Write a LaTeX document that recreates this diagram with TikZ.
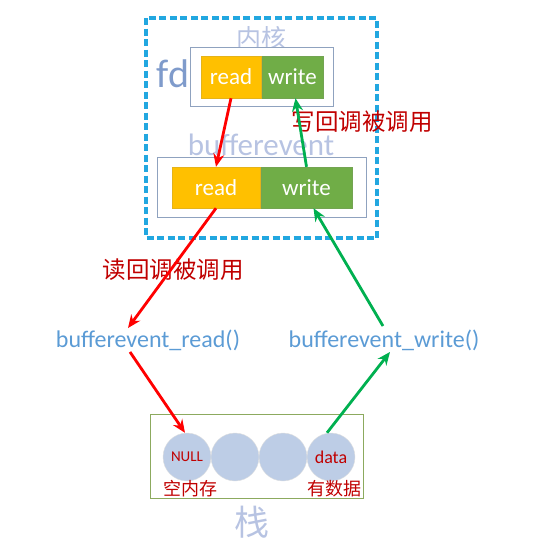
\documentclass[tikz,border=0pt]{standalone}
\usepackage{fontspec}
\setmainfont{Carlito}
\newfontfamily\cjk{Noto Sans CJK SC}
\usepackage{tikz}
\usetikzlibrary{positioning,arrows.meta}

\definecolor{kblue}{HTML}{22A7E0}
\definecolor{klav}{HTML}{B7C3E2}
\definecolor{kyel}{HTML}{FFC000}
\definecolor{kgrn}{HTML}{70AD47}
\definecolor{kred}{HTML}{C00000}
\definecolor{kfn}{HTML}{5B9BD5}
\definecolor{kfd}{HTML}{7F9BCB}
\definecolor{kcirc}{HTML}{BDCDE6}
\definecolor{karrg}{HTML}{00B050}
\definecolor{kedge}{HTML}{8FA2BF}
\definecolor{kstk}{HTML}{8CAA5E}

\tikzset{
  frame/.style={draw=kedge, fill=white, line width=1pt},
  rbox/.style={fill=kyel, draw=kyel!80!gray, text=white, inner sep=0pt,
    font=\fontsize{23}{23}\selectfont},
  wbox/.style={fill=kgrn, draw=kgrn!80!gray, text=white, inner sep=0pt,
    font=\fontsize{23}{23}\selectfont},
  redarr/.style={-{Stealth[length=13pt,width=11pt]}, draw=red, line width=2.8pt},
  grnarr/.style={-{Stealth[length=13pt,width=11pt]}, draw=karrg, line width=2.8pt},
  fn/.style={text=kfn, font=\fontsize{24}{24}\selectfont},
  cn/.style={text=kred, font=\cjk\fontsize{23.5}{23.5}\selectfont},
  cell/.style={circle, fill=kcirc, draw=gray!25, minimum size=48pt, inner sep=0pt,
    text=kred, font=\fontsize{15}{15}\selectfont},
}

\begin{document}
\begin{tikzpicture}[x=1pt,y=-1pt]
    \useasboundingbox (0,0) rectangle (542,546);

    % kernel frame
    \draw[kblue, line width=3.4pt, dash pattern=on 7pt off 3.5pt] (146,18) rectangle (377,238);
    \node[text=klav, font=\cjk\fontsize{25}{25}\selectfont] (kern) at (261,38) {内核};

    % fd
    \draw[frame] (190,47) rectangle (333,106);
    \node[text=kfd, font=\fontsize{40}{40}\selectfont] (fd) at (173,74) {fd};
    \node[rbox, minimum width=60pt, minimum height=42pt] (topread) at (231,77) {read};
    \node[wbox, minimum width=61pt, minimum height=42pt] (topwrite) at (292.5,77) {write};

    % bufferevent
    \node[cn] (wcb) at (362,122) {写回调被调用};
    \node[text=klav, font=\fontsize{31}{31}\selectfont] (bev) at (261,145) {bufferevent};
    \draw[frame] (157,157) rectangle (366,217);
    \node[rbox, minimum width=88pt, minimum height=41pt] (botread) at (216,187.5) {read};
    \node[wbox, minimum width=91pt, minimum height=41pt] (botwrite) at (306.5,187.5) {write};

    \draw[redarr] (topread.south) -- (botread.north);
    \draw[grnarr] (botwrite.north) -- ([xshift=3pt]topwrite.south);

    % functions
    \node[cn] (rcb) at (173,270) {读回调被调用};
    \node[fn] (readfn) at (148,340) {bufferevent\_read()};
    \node[fn] (writefn) at (384,340) {bufferevent\_write()};

    \draw[redarr] (botread.south) -- ([xshift=-20pt,yshift=-2pt]readfn.north);
    \draw[grnarr] ([xshift=-1pt]writefn.north) -- ([xshift=7pt]botwrite.south);

    % stack
    \draw[draw=kstk, line width=1pt] (150,414) rectangle (363,498);
    \node[cell] (c1) at (187,457) {NULL};
    \node[cell] (c2) at (235,457) {};
    \node[cell] (c3) at (283,457) {};
    \node[cell, font=\fontsize{18}{18}\selectfont] (c4) at (331,457) {data};
    \node[cn, font=\cjk\fontsize{18}{18}\selectfont] (empty) at (190,489) {空内存};
    \node[cn, font=\cjk\fontsize{18}{18}\selectfont] (full) at (334,489) {有数据};
    \node[text=klav, font=\cjk\fontsize{35}{35}\selectfont] (stk) at (252,522) {栈};

    \draw[redarr] ([xshift=-18pt,yshift=2pt]readfn.south) -- ([xshift=-2pt]c1.north);
    \draw[grnarr] ([xshift=-4pt]c4.north) -- ([xshift=6pt,yshift=2pt]writefn.south);
\end{tikzpicture}
\end{document}
